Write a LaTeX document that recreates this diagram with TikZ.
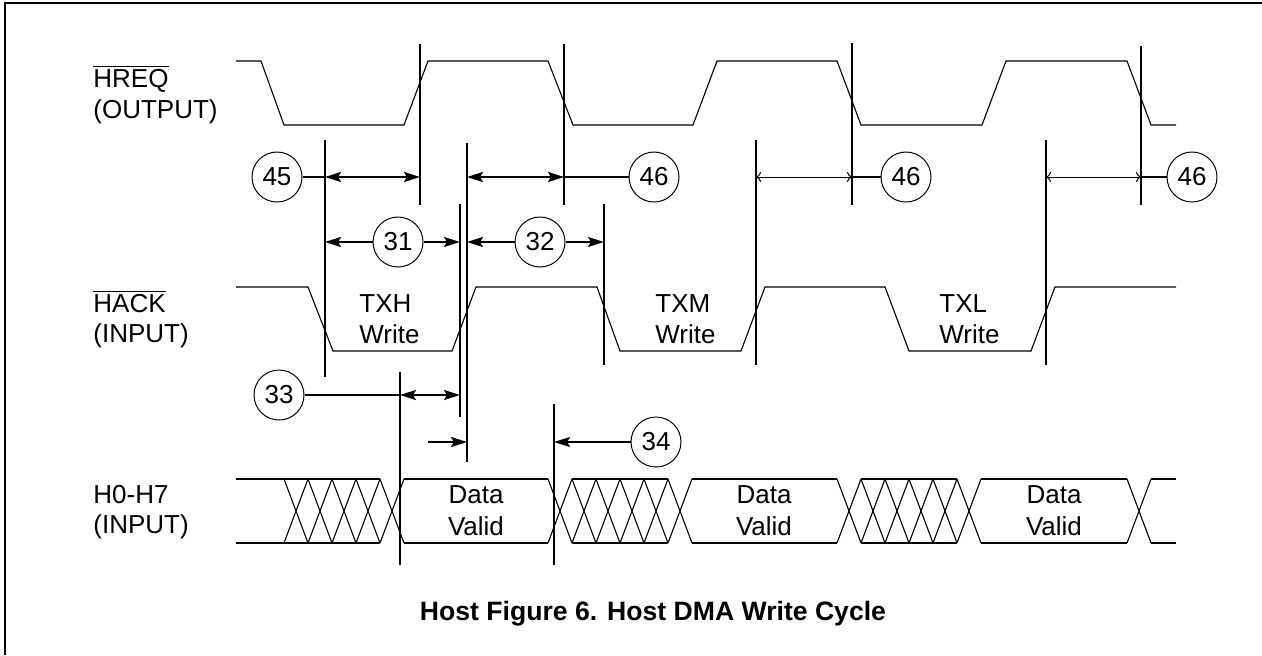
\documentclass[tikz,border=0pt]{standalone}
\usepackage{fontspec}
\setmainfont{Liberation Sans}
\usetikzlibrary{arrows.meta}

\begin{document}
\begin{tikzpicture}[x=0.5pt,y=-0.5pt,font=\fontsize{13}{15.5}\selectfont,
  wave/.style={line width=0.55pt},
  guide/.style={line width=1pt},
  arr/.style={line width=1pt,>={Stealth[length=8pt,width=5pt,inset=1.5pt]}},
  thinarr/.style={line width=0.5pt,>={To[length=2.5pt,width=5pt]}},
  num/.style={draw,circle,line width=0.5pt,minimum size=25pt,inner sep=0pt},
  lbl/.style={anchor=base west,inner sep=0pt},
  mid/.style={anchor=base,inner sep=0pt}]
\useasboundingbox (0,0) rectangle (1262,655);
% Frame
\draw [line width=1.4pt] (5,655) -- (5,3) -- (1262,3);
% Signal names
\node (hreq) at (93,87) [lbl] {$\overline{\mbox{HREQ}}$};
\node (hreqio) at (93,118) [lbl] {(OUTPUT)};
\node (hack) at (93,312) [lbl] {$\overline{\mbox{HACK}}$};
\node (hackio) at (93,342) [lbl] {(INPUT)};
\node (hbus) at (93,503) [lbl] {H0-H7};
\node (hbusio) at (93,533) [lbl] {(INPUT)};
% HREQ waveform
\draw [wave] (236,61) -- (261,61) -- (284,125) -- (404,125) -- (428,61) -- (548,61) -- (573,125) -- (693,125) -- (717,61) -- (837,61) -- (861,125) -- (982,125) -- (1006,61) -- (1127,61) -- (1151,125) -- (1176,125);
% HACK waveform
\draw [wave] (236,287) -- (308,287) -- (333,351) -- (452,351) -- (476,287) -- (597,287) -- (620,351) -- (741,351) -- (765,287) -- (885,287) -- (909,351) -- (1031,351) -- (1055,287) -- (1176,287);
\node (txh) at (359,312) [lbl] {TXH};
\node (txhw) at (359,343) [lbl] {Write};
\node (txm) at (655,312) [lbl] {TXM};
\node (txmw) at (655,343) [lbl] {Write};
\node (txl) at (939,312) [lbl] {TXL};
\node (txlw) at (939,343) [lbl] {Write};
% H0-H7 bus
\foreach \a/\b in {236/380,404/548,572/668,692/837,861/957,981/1127,1151/1176}
  \draw [wave] (\a,479) -- (\b,479) (\a,543) -- (\b,543);
\foreach \x in {284,308,332,356,380,548,572,596,620,644,668,837,861,885,909,933,957,1127}
  \draw [wave] (\x,479) -- ++(24,64) (\x,543) -- ++(24,-64);
\node (dv1) at (476,503) [mid] {Data};
\node (dv1v) at (476,535) [mid] {Valid};
\node (dv2) at (764,503) [mid] {Data};
\node (dv2v) at (764,535) [mid] {Valid};
\node (dv3) at (1054,503) [mid] {Data};
\node (dv3v) at (1054,535) [mid] {Valid};
% Timing guides
\foreach \n/\x/\a/\b in {A/325/140/377,B/420/44/205,C/460/204/417,D/467/143/462,
    E/564/44/205,F/604/204/365,G/756/140/365,H/852/43/205,I/1046/140/365,
    J/1141/46/205,K/400/372/565,L/554/404/565}
{
  \coordinate (g\n) at (\x,\a);
  \draw [guide] (g\n) -- (\x,\b);
}
% Numbered parameters
\node (c45) at (277,177) [num] {45};
\node (c46a) at (654,177) [num] {46};
\node (c46b) at (906,177) [num] {46};
\node (c46c) at (1192,177) [num] {46};
\node (c31) at (398,242) [num] {31};
\node (c32) at (540,242) [num] {32};
\node (c33) at (279,395) [num] {33};
\node (c34) at (656,442) [num] {34};
\coordinate (p34) at (428,442);
% 45 and 46
\draw [arr] (c45) -- (gA |- c45);
\draw [arr,<->] (gA |- c45) -- (gB |- c45);
\draw [arr,<->] (gD |- c46a) -- (gE |- c46a);
\draw [arr] (gE |- c46a) -- (c46a);
\draw [thinarr,<->] (gG |- c46b) -- (gH |- c46b);
\draw [line width=0.8pt] (gH |- c46b) -- (c46b);
\draw [thinarr,<->] (gI |- c46c) -- (gJ |- c46c);
\draw [line width=0.8pt] (gJ |- c46c) -- (c46c);
% 31 and 32
\draw [arr,->] (c31) -- (gA |- c31);
\draw [arr,->] (c31) -- (gC |- c31);
\draw [arr,->] (c32) -- (gD |- c32);
\draw [arr,->] (c32) -- (gF |- c32);
% 33 and 34
\draw [arr] (c33) -- (gK |- c33);
\draw [arr,<->] (gK |- c33) -- (gC |- c33);
\draw [arr,->] (p34) -- (gD |- p34);
\draw [arr,->] (c34) -- (gL |- c34);
% Caption
\node (cap) at (653,620) [mid,font=\fontsize{13.3}{16}\selectfont\bfseries] {Host Figure 6. Host DMA Write Cycle};
\end{tikzpicture}
\end{document}
